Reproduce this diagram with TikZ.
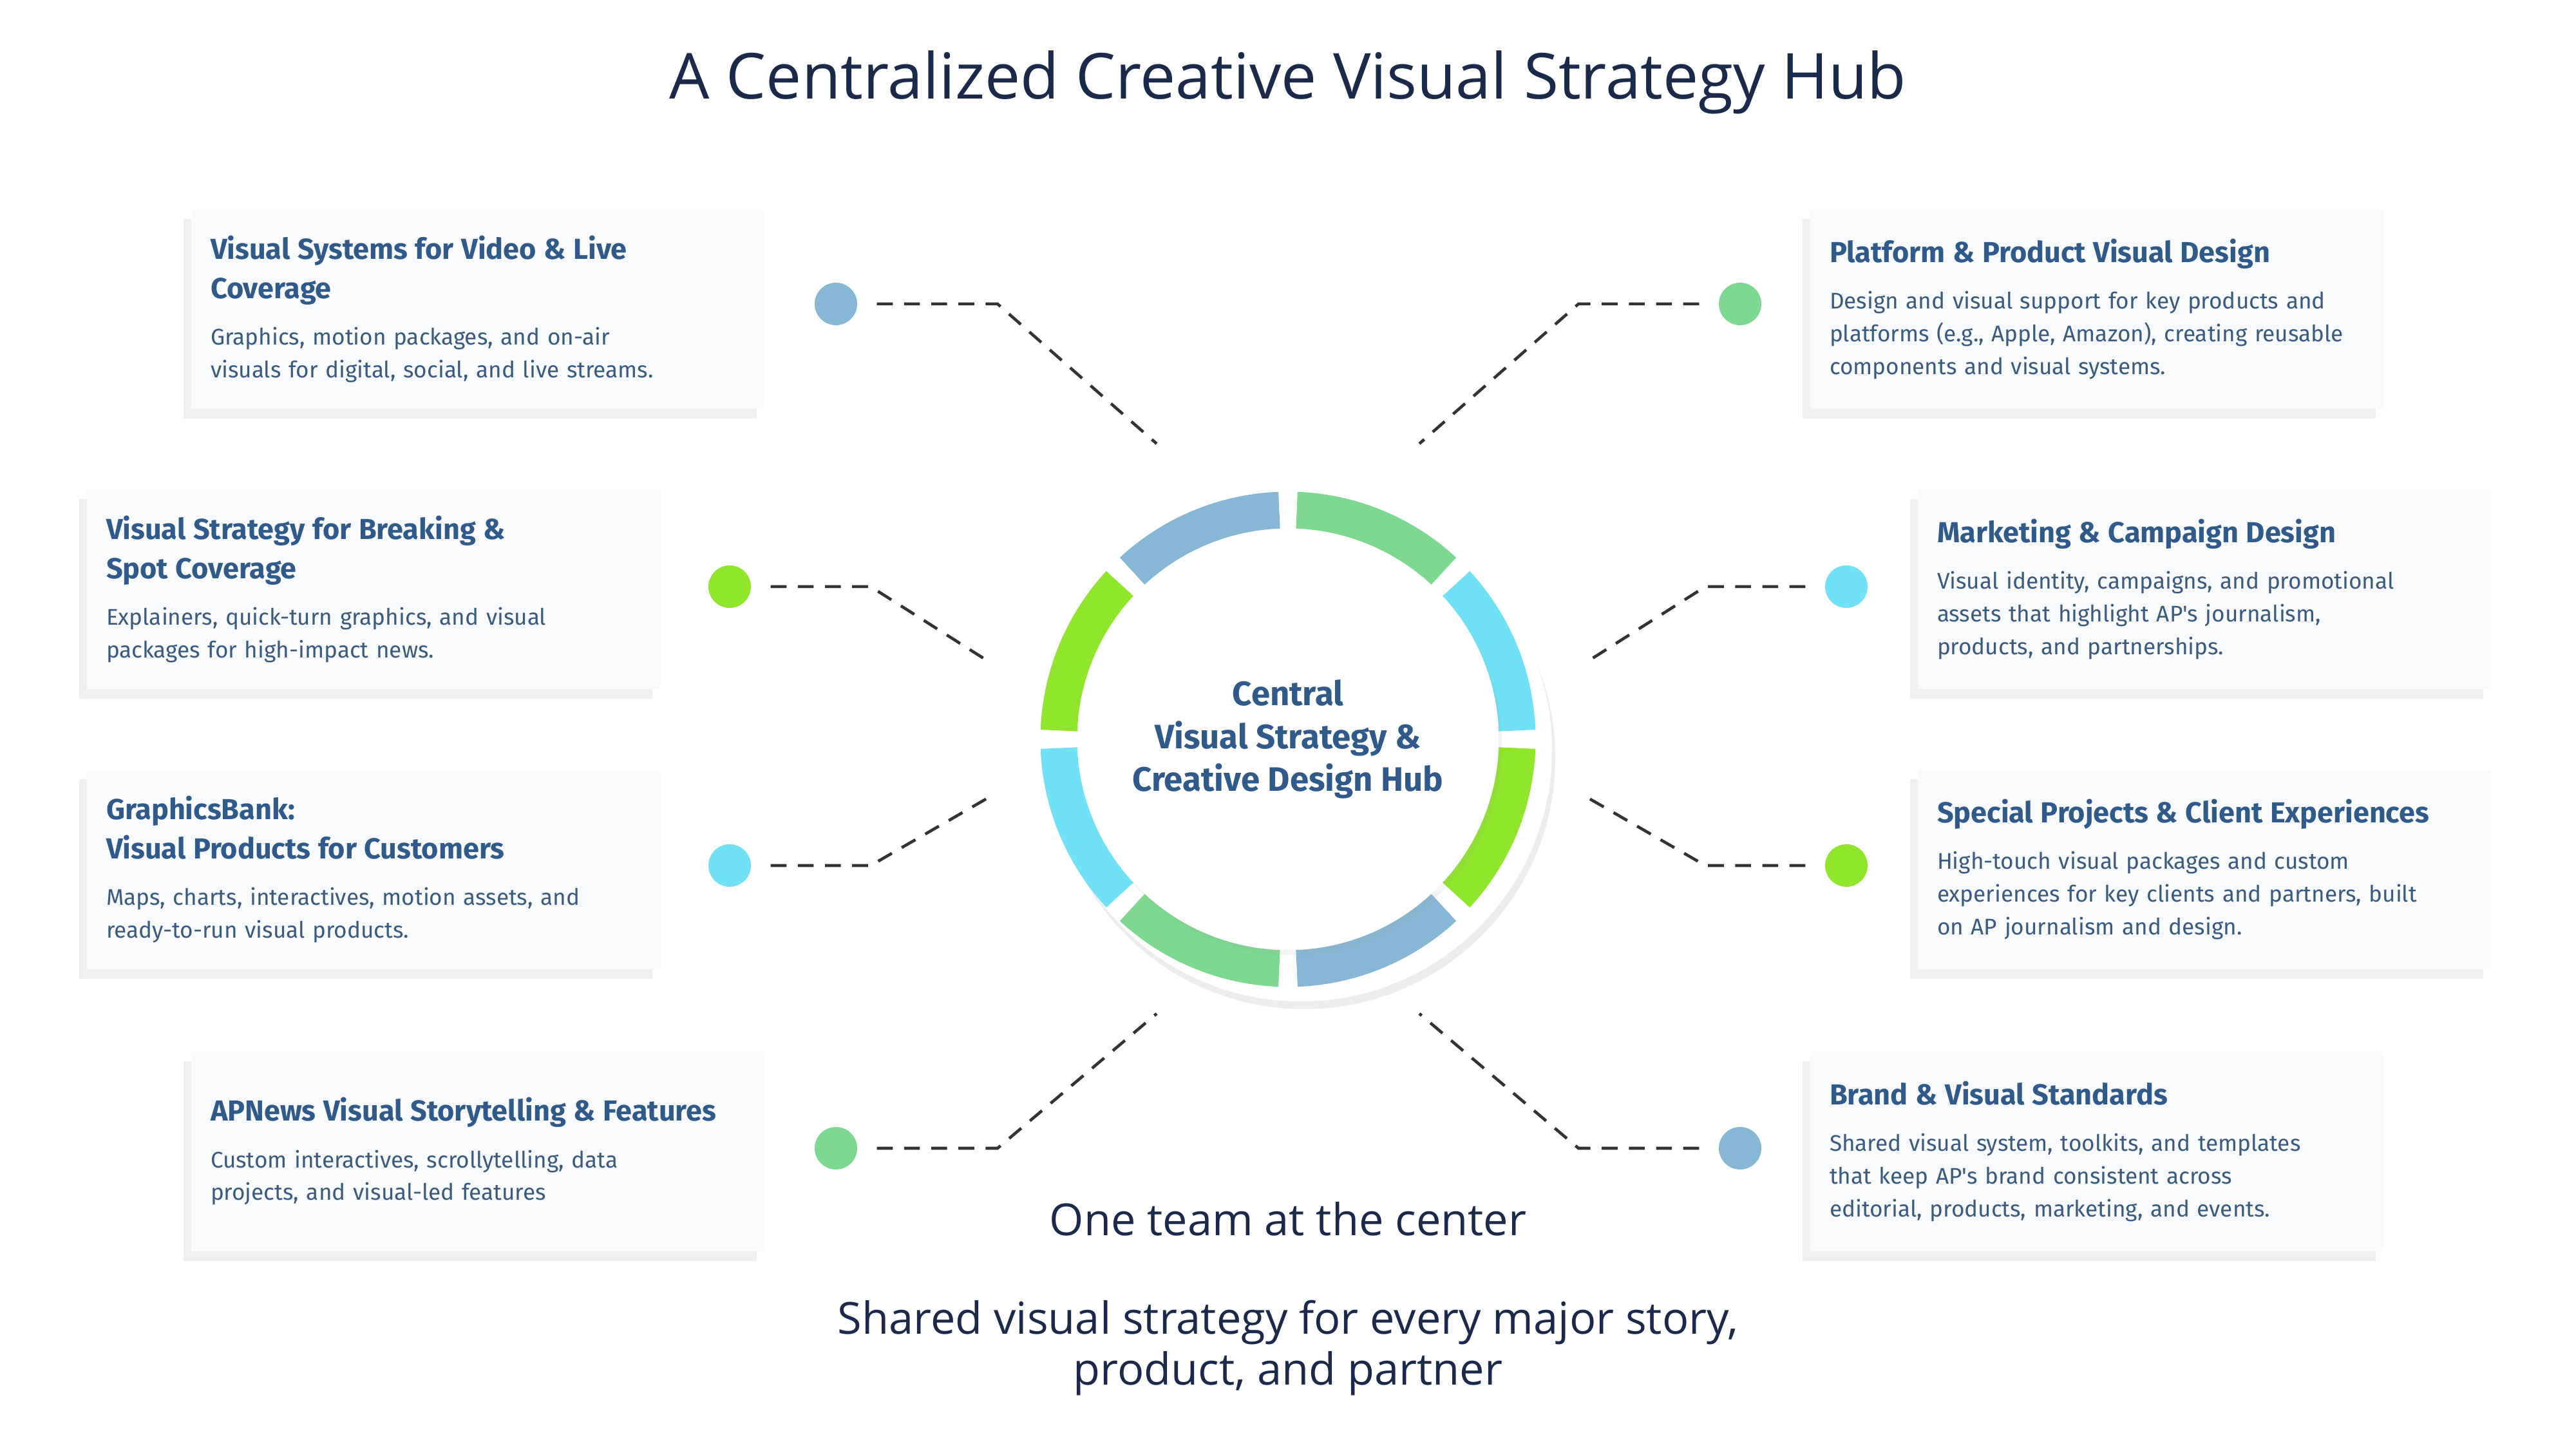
\documentclass[tikz,border=0pt]{standalone}
\usepackage{fontspec}
\setmainfont{Open Sans}
\newfontfamily\boxfont{Fira Sans}
\usetikzlibrary{positioning,shadows}
\definecolor{apblue}{HTML}{86B8D6}
\definecolor{apgreen}{HTML}{7DD98F}
\definecolor{apcyan}{HTML}{70E1F6}
\definecolor{aplime}{HTML}{8FE62B}
\definecolor{navy}{HTML}{1B2A4A}
\definecolor{headblue}{HTML}{2F5A8A}
\definecolor{bodyblue}{HTML}{3A5A80}
\definecolor{boxfill}{HTML}{F8FAFC}
\begin{document}
\begin{tikzpicture}[
            card/.style={rectangle,fill=boxfill,minimum width=8.9cm,minimum height=3.1cm,
              text width=8.3cm,align=left,inner sep=0pt,font=\boxfont,
              drop shadow={shadow xshift=-0.12cm,shadow yshift=-0.15cm,opacity=.15,fill=black!40}},
            dot/.style={circle,minimum size=0.66cm,inner sep=0pt},
            link/.style={draw=black!80,dashed,dash pattern=on 7pt off 5pt,line width=1.3pt},
            seg/.style={line width=0.57cm}
          ]
          \useasboundingbox (0,0) rectangle (40,22.5);
          \newcommand{\cardtext}[2]{\hyphenpenalty=10000\relax{\color{headblue}\bfseries\fontsize{12.8}{17.5}\selectfont #1\par}\vspace{6pt}{\color{bodyblue}\fontsize{10}{14.5}\selectfont #2\par}}
          %title
          \node[text=navy,font=\fontsize{28}{33}\selectfont] (title) at (20,21.22) {A Centralized Creative Visual Strategy Hub};

          %hub
          \fill[white,drop shadow={shadow xshift=0.05cm,shadow yshift=-0.12cm,opacity=.18,fill=black!40}] (20.2,10.85) circle (3.9);
          \foreach \c [count=\i from 0] in {apgreen,apcyan,aplime,apblue,apgreen,apcyan,aplime,apblue}
            \draw[seg,\c] ({90-45*\i-2.2}:3.56) ++(20,11.02) arc ({90-45*\i-2.2}:{45-45*\i+2.2}:3.56);
          \node[circle,fill=white,minimum size=6.54cm,
            drop shadow={shadow xshift=0.05cm,shadow yshift=-0.08cm,opacity=.1,fill=black!40}] (hub) at (20,11.02) {};
          \node[align=center,text=headblue,font=\boxfont\bfseries\fontsize{15}{19}\selectfont] at (hub) {Central\\Visual Strategy \&\\Creative Design Hub};

          %left cards
          \node[card] (l1) at (7.42,17.70) {\cardtext{Visual Systems for Video \& Live Coverage}{Graphics, motion packages, and on-air\\visuals for digital, social, and live streams.}};
          \node[card] (l2) at (5.80,13.35) {\cardtext{Visual Strategy for Breaking \&\\Spot Coverage}{Explainers, quick-turn graphics, and visual\\packages for high-impact news.}};
          \node[card] (l3) at (5.80,9.00) {\cardtext{GraphicsBank:\\Visual Products for Customers}{Maps, charts, interactives, motion assets, and\\ready-to-run visual products.}};
          \node[card] (l4) at (7.42,4.62) {\cardtext{APNews Visual Storytelling \& Features}{Custom interactives, scrollytelling, data\\projects, and visual-led features}};

          %right cards
          \node[card] (r1) at (32.56,17.70) {\cardtext{Platform \& Product Visual Design}{Design and visual support for key products and\\platforms (e.g., Apple, Amazon), creating reusable\\components and visual systems.}};
          \node[card] (r2) at (34.23,13.35) {\cardtext{Marketing \& Campaign Design}{Visual identity, campaigns, and promotional\\assets that highlight AP's journalism,\\products, and partnerships.}};
          \node[card] (r3) at (34.23,9.00) {\cardtext{Special Projects \& Client Experiences}{High-touch visual packages and custom\\experiences for key clients and partners, built\\on AP journalism and design.}};
          \node[card] (r4) at (32.56,4.62) {\cardtext{Brand \& Visual Standards}{Shared visual system, toolkits, and templates\\that keep AP's brand consistent across\\editorial, products, marketing, and events.}};

          %dots
          \node[dot,fill=apblue] (d1) at (12.98,17.78) {};
          \node[dot,fill=aplime] (d2) at (11.33,13.39) {};
          \node[dot,fill=apcyan] (d3) at (11.33,9.06) {};
          \node[dot,fill=apgreen] (d4) at (12.98,4.67) {};
          \node[dot,fill=apgreen] (e1) at (27.02,17.78) {};
          \node[dot,fill=apcyan] (e2) at (28.67,13.39) {};
          \node[dot,fill=aplime] (e3) at (28.67,9.06) {};
          \node[dot,fill=apblue] (e4) at (27.02,4.67) {};

          %connectors
          \coordinate (a1) at (17.96,15.61); \coordinate (b1) at (22.04,15.61);
          \coordinate (a2) at (15.41,12.19); \coordinate (b2) at (24.59,12.19);
          \coordinate (a3) at (15.41,10.15); \coordinate (b3) at (24.59,10.15);
          \coordinate (a4) at (17.96,6.76);  \coordinate (b4) at (22.04,6.76);
          \path[link] (d1.east) ++(0.3,0) -- (15.49,17.78) -- (a1);
          \path[link] (d2.east) ++(0.3,0) -- (13.52,13.39) -- (a2);
          \path[link] (d3.east) ++(0.3,0) -- (13.52,9.06) -- (a3);
          \path[link] (d4.east) ++(0.3,0) -- (15.49,4.67) -- (a4);
          \path[link] (e1.west) ++(-0.3,0) -- (24.51,17.78) -- (b1);
          \path[link] (e2.west) ++(-0.3,0) -- (26.48,13.39) -- (b2);
          \path[link] (e3.west) ++(-0.3,0) -- (26.48,9.06) -- (b3);
          \path[link] (e4.west) ++(-0.3,0) -- (24.51,4.67) -- (b4);

          %captions
          \node[text=navy,font=\fontsize{19.5}{23}\selectfont] (team) at (20,3.57) {One team at the center};
          \node[text=navy,align=center,font=\fontsize{19.5}{22.5}\selectfont] (shared) at (20,1.57) {Shared visual strategy for every major story,\\product, and partner};
      \end{tikzpicture}
\end{document}
